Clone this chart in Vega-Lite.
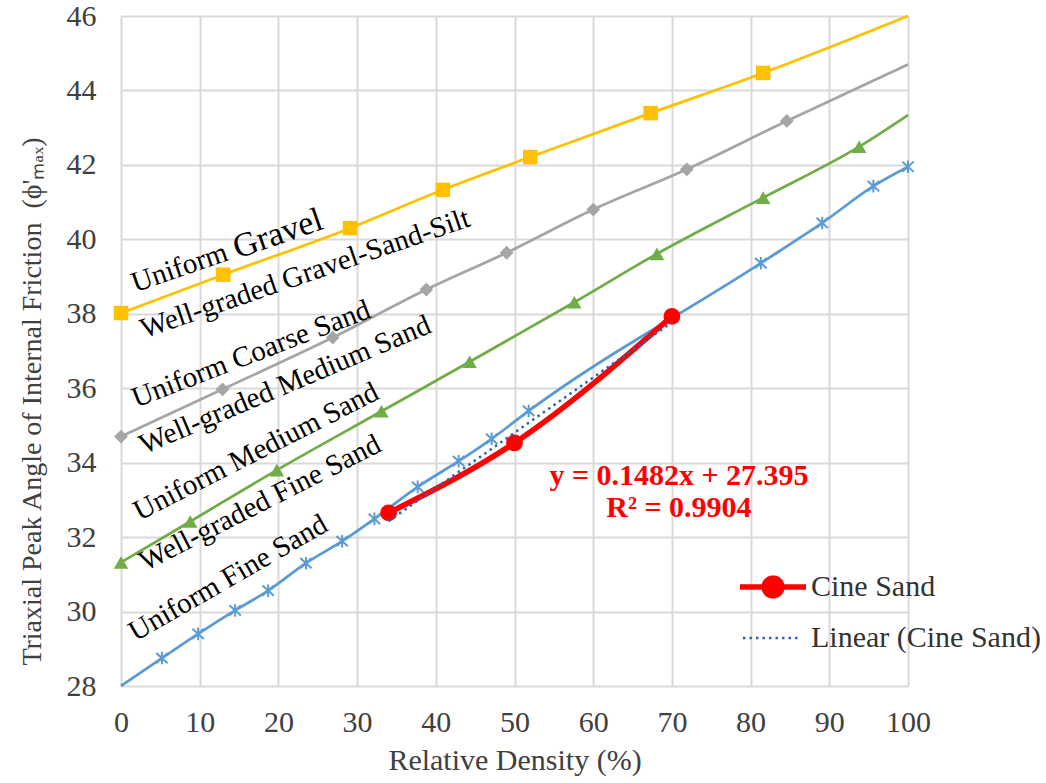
{
  "$schema": "https://vega.github.io/schema/vega-lite/v6.json",
  "width": 787,
  "height": 670,
  "autosize": "none",
  "padding": {"left": 121, "top": 16, "right": 138, "bottom": 97},
  "config": {"view": {"stroke": null}, "font": "Liberation Serif"},
  "datasets": {
    "curves": [
      {"series": "Gravel", "x": 0, "phi": 38.02},
      {"series": "Gravel", "x": 13.0, "phi": 39.05},
      {"series": "Gravel", "x": 29.1, "phi": 40.3},
      {"series": "Gravel", "x": 40.9, "phi": 41.33},
      {"series": "Gravel", "x": 52.0, "phi": 42.21},
      {"series": "Gravel", "x": 67.3, "phi": 43.39},
      {"series": "Gravel", "x": 81.6, "phi": 44.47},
      {"series": "Gravel", "x": 100, "phi": 46.0},
      {"series": "Coarse", "x": 0, "phi": 34.7},
      {"series": "Coarse", "x": 12.9, "phi": 35.97},
      {"series": "Coarse", "x": 26.9, "phi": 37.36},
      {"series": "Coarse", "x": 38.8, "phi": 38.65},
      {"series": "Coarse", "x": 49.0, "phi": 39.64},
      {"series": "Coarse", "x": 60.0, "phi": 40.8},
      {"series": "Coarse", "x": 71.9, "phi": 41.88},
      {"series": "Coarse", "x": 84.6, "phi": 43.18},
      {"series": "Coarse", "x": 100, "phi": 44.7},
      {"series": "Medium", "x": 0, "phi": 31.32},
      {"series": "Medium", "x": 8.8, "phi": 32.42},
      {"series": "Medium", "x": 19.8, "phi": 33.8},
      {"series": "Medium", "x": 33.1, "phi": 35.38},
      {"series": "Medium", "x": 44.3, "phi": 36.71},
      {"series": "Medium", "x": 57.6, "phi": 38.31},
      {"series": "Medium", "x": 68.1, "phi": 39.61},
      {"series": "Medium", "x": 81.6, "phi": 41.12},
      {"series": "Medium", "x": 93.8, "phi": 42.49},
      {"series": "Medium", "x": 100, "phi": 43.34},
      {"series": "Fine", "x": 0, "phi": 28.0},
      {"series": "Fine", "x": 5.2, "phi": 28.75},
      {"series": "Fine", "x": 9.8, "phi": 29.4},
      {"series": "Fine", "x": 14.5, "phi": 30.03},
      {"series": "Fine", "x": 18.7, "phi": 30.56},
      {"series": "Fine", "x": 23.5, "phi": 31.3},
      {"series": "Fine", "x": 28.1, "phi": 31.89},
      {"series": "Fine", "x": 32.2, "phi": 32.49},
      {"series": "Fine", "x": 37.7, "phi": 33.35},
      {"series": "Fine", "x": 42.9, "phi": 34.04},
      {"series": "Fine", "x": 47.1, "phi": 34.64},
      {"series": "Fine", "x": 51.8, "phi": 35.39},
      {"series": "Fine", "x": 81.3, "phi": 39.36},
      {"series": "Fine", "x": 89.1, "phi": 40.44},
      {"series": "Fine", "x": 95.6, "phi": 41.43},
      {"series": "Fine", "x": 100, "phi": 41.95}
    ],
    "markers": [
      {"series": "Gravel", "x": 0, "phi": 38.02},
      {"series": "Gravel", "x": 13.0, "phi": 39.05},
      {"series": "Gravel", "x": 29.1, "phi": 40.3},
      {"series": "Gravel", "x": 40.9, "phi": 41.33},
      {"series": "Gravel", "x": 52.0, "phi": 42.21},
      {"series": "Gravel", "x": 67.3, "phi": 43.39},
      {"series": "Gravel", "x": 81.6, "phi": 44.47},
      {"series": "Coarse", "x": 0, "phi": 34.7},
      {"series": "Coarse", "x": 12.9, "phi": 35.97},
      {"series": "Coarse", "x": 26.9, "phi": 37.36},
      {"series": "Coarse", "x": 38.8, "phi": 38.65},
      {"series": "Coarse", "x": 49.0, "phi": 39.64},
      {"series": "Coarse", "x": 60.0, "phi": 40.8},
      {"series": "Coarse", "x": 71.9, "phi": 41.88},
      {"series": "Coarse", "x": 84.6, "phi": 43.18},
      {"series": "Medium", "x": 0, "phi": 31.32},
      {"series": "Medium", "x": 8.8, "phi": 32.42},
      {"series": "Medium", "x": 19.8, "phi": 33.8},
      {"series": "Medium", "x": 33.1, "phi": 35.38},
      {"series": "Medium", "x": 44.3, "phi": 36.71},
      {"series": "Medium", "x": 57.6, "phi": 38.31},
      {"series": "Medium", "x": 68.1, "phi": 39.61},
      {"series": "Medium", "x": 81.6, "phi": 41.12},
      {"series": "Medium", "x": 93.8, "phi": 42.49},
      {"series": "Fine", "x": 5.2, "phi": 28.75},
      {"series": "Fine", "x": 9.8, "phi": 29.4},
      {"series": "Fine", "x": 14.5, "phi": 30.03},
      {"series": "Fine", "x": 18.7, "phi": 30.56},
      {"series": "Fine", "x": 23.5, "phi": 31.3},
      {"series": "Fine", "x": 28.1, "phi": 31.89},
      {"series": "Fine", "x": 32.2, "phi": 32.49},
      {"series": "Fine", "x": 37.7, "phi": 33.35},
      {"series": "Fine", "x": 42.9, "phi": 34.04},
      {"series": "Fine", "x": 47.1, "phi": 34.64},
      {"series": "Fine", "x": 51.8, "phi": 35.39},
      {"series": "Fine", "x": 81.3, "phi": 39.36},
      {"series": "Fine", "x": 89.1, "phi": 40.44},
      {"series": "Fine", "x": 95.6, "phi": 41.43},
      {"series": "Fine", "x": 100, "phi": 41.95}
    ],
    "cine": [
      {"x": 34, "phi": 32.65},
      {"x": 50, "phi": 34.53},
      {"x": 70, "phi": 37.93}
    ],
    "trend": [
      {"x": 34, "phi": 32.43},
      {"x": 70, "phi": 37.77}
    ]
  },
  "encoding": {
    "x": {"field": "x", "type": "quantitative", "scale": {"domain": [0, 100], "nice": false},
      "axis": {"values": [0, 10, 20, 30, 40, 50, 60, 70, 80, 90, 100], "title": "Relative Density (%)",
        "grid": true, "gridColor": "#d9d9d9", "gridWidth": 2, "domain": false, "ticks": false, "tickSize": 0,
        "labelFont": "Liberation Serif", "labelFontSize": 30, "labelColor": "#404040", "labelPadding": 21, "labelFlush": false, "labelOverlap": false,
        "titleFont": "Liberation Serif", "titleFontSize": 30, "titleFontWeight": "normal", "titleColor": "#404040", "titlePadding": 8}},
    "y": {"field": "phi", "type": "quantitative", "scale": {"domain": [28, 46], "nice": false, "zero": false},
      "axis": {"values": [28, 30, 32, 34, 36, 38, 40, 42, 44, 46], "title": "Triaxial Peak Angle of Internal Friction \u00a0(ϕ'ₘₐₓ)",
        "grid": true, "gridColor": "#d9d9d9", "gridWidth": 2, "domain": false, "ticks": false, "tickSize": 0,
        "labelFont": "Liberation Serif", "labelFontSize": 30, "labelColor": "#404040", "labelPadding": 25, "labelOverlap": false,
        "titleFont": "Liberation Serif", "titleFontSize": 28, "titleFontWeight": "normal", "titleColor": "#404040", "titlePadding": 20, "titleY": 385}}
  },
  "layer": [
    {"data": {"name": "curves"}, "transform": [{"filter": "datum.series === 'Gravel'"}],
     "mark": {"type": "line", "color": "#FFC000", "strokeWidth": 2.75, "interpolate": "monotone"}},
    {"data": {"name": "curves"}, "transform": [{"filter": "datum.series === 'Coarse'"}],
     "mark": {"type": "line", "color": "#A5A5A5", "strokeWidth": 2.75, "interpolate": "monotone"}},
    {"data": {"name": "curves"}, "transform": [{"filter": "datum.series === 'Medium'"}],
     "mark": {"type": "line", "color": "#70AD47", "strokeWidth": 2.75, "interpolate": "monotone"}},
    {"data": {"name": "curves"}, "transform": [{"filter": "datum.series === 'Fine'"}],
     "mark": {"type": "line", "color": "#5B9BD5", "strokeWidth": 2.75, "interpolate": "monotone"}},
    {"data": {"name": "markers"}, "transform": [{"filter": "datum.series === 'Gravel'"}],
     "mark": {"type": "point", "shape": "square", "filled": true, "color": "#FFC000", "size": 210, "opacity": 1}},
    {"data": {"name": "markers"}, "transform": [{"filter": "datum.series === 'Coarse'"}],
     "mark": {"type": "point", "shape": "diamond", "filled": true, "color": "#A5A5A5", "size": 190, "opacity": 1}},
    {"data": {"name": "markers"}, "transform": [{"filter": "datum.series === 'Medium'"}],
     "mark": {"type": "point", "shape": "triangle-up", "filled": true, "color": "#70AD47", "size": 210, "opacity": 1}},
    {"data": {"name": "markers"}, "transform": [{"filter": "datum.series === 'Fine'"}],
     "mark": {"type": "point", "shape": "M-1,-0.9L1,0.9M-1,0.9L1,-0.9M0,-1.1L0,1.1", "filled": false, "color": "#5B9BD5", "strokeWidth": 2, "size": 130, "opacity": 1}},
    {"data": {"name": "cine"},
     "mark": {"type": "line", "strokeWidth": 5.5, "interpolate": "monotone"},
     "encoding": {"color": {"datum": "Cine Sand", "type": "nominal",
       "scale": {"domain": ["Cine Sand", "Linear (Cine Sand)"], "range": ["#FF0000", "#3060B8"]},
       "legend": {"orient": "none", "legendX": 637, "legendY": 556, "title": null, "padding": 0,
         "symbolSize": 1000, "rowPadding": 16, "labelOffset": 23,
         "labelFont": "Liberation Serif", "labelFontSize": 30, "labelColor": "#333333", "labelLimit": 400,
         "encode": {"symbols": {"update": {
           "shape": {"signal": "datum.value === 'Cine Sand' ? 'M-2.09,0H2.09M-0.56,0A0.56,0.56 0 1,0 0.56,0A0.56,0.56 0 1,0 -0.56,0Z' : 'M-1.9,0H1.75'"},
           "fill": {"signal": "datum.value === 'Cine Sand' ? '#FF0000' : 'transparent'"},
           "stroke": {"signal": "datum.value === 'Cine Sand' ? '#FF0000' : '#3060B8'"},
           "strokeWidth": {"signal": "datum.value === 'Cine Sand' ? 5.5 : 2.5"},
           "strokeDash": {"signal": "datum.value === 'Cine Sand' ? [1, 0] : [2.5, 4]"},
           "opacity": {"value": 1}
         }}}}}}},
    {"data": {"name": "cine"},
     "mark": {"type": "point", "shape": "circle", "filled": true, "size": 283, "opacity": 1},
     "encoding": {"color": {"datum": "Cine Sand", "type": "nominal"}}},
    {"data": {"name": "trend"},
     "mark": {"type": "line", "strokeWidth": 2.5, "strokeDash": [2.5, 4]},
     "encoding": {"color": {"datum": "Linear (Cine Sand)", "type": "nominal"}}},
    {"data": {"values": [{"label": "Uniform", "x": 7.43, "phi": 39.24}]},
     "mark": {"type": "text", "angle": -19, "font": "Liberation Serif", "fontSize": 29, "color": "#000000", "align": "center", "baseline": "middle"},
     "encoding": {"text": {"field": "label"}}},
    {"data": {"values": [{"label": "Gravel", "x": 19.95, "phi": 40.14}]},
     "mark": {"type": "text", "angle": -19, "font": "Liberation Serif", "fontSize": 34, "color": "#000000", "align": "center", "baseline": "middle"},
     "encoding": {"text": {"field": "label"}}},
    {"data": {"values": [{"label": "Well-graded Gravel-Sand-Silt", "x": 23.38, "phi": 39.08}]},
     "mark": {"type": "text", "angle": -19, "font": "Liberation Serif", "fontSize": 29, "color": "#000000", "align": "center", "baseline": "middle"},
     "encoding": {"text": {"field": "label"}}},
    {"data": {"values": [{"label": "Uniform Coarse Sand", "x": 16.52, "phi": 36.92}]},
     "mark": {"type": "text", "angle": -21, "font": "Liberation Serif", "fontSize": 29, "color": "#000000", "align": "center", "baseline": "middle"},
     "encoding": {"text": {"field": "label"}}},
    {"data": {"values": [{"label": "Well-graded Medium Sand", "x": 20.84, "phi": 36.09}]},
     "mark": {"type": "text", "angle": -23, "font": "Liberation Serif", "fontSize": 29, "color": "#000000", "align": "center", "baseline": "middle"},
     "encoding": {"text": {"field": "label"}}},
    {"data": {"values": [{"label": "Uniform Medium Sand", "x": 17.15, "phi": 34.3}]},
     "mark": {"type": "text", "angle": -27, "font": "Liberation Serif", "fontSize": 29, "color": "#000000", "align": "center", "baseline": "middle"},
     "encoding": {"text": {"field": "label"}}},
    {"data": {"values": [{"label": "Well-graded Fine Sand", "x": 17.66, "phi": 32.92}]},
     "mark": {"type": "text", "angle": -27, "font": "Liberation Serif", "fontSize": 29, "color": "#000000", "align": "center", "baseline": "middle"},
     "encoding": {"text": {"field": "label"}}},
    {"data": {"values": [{"label": "Uniform Fine Sand", "x": 13.6, "phi": 30.9}]},
     "mark": {"type": "text", "angle": -30, "font": "Liberation Serif", "fontSize": 29, "color": "#000000", "align": "center", "baseline": "middle"},
     "encoding": {"text": {"field": "label"}}},
    {"data": {"values": [{"label": "y = 0.1482x + 27.395", "x": 70.9, "phi": 33.64}, {"label": "R² = 0.9904", "x": 70.9, "phi": 32.78}]},
     "mark": {"type": "text", "font": "Liberation Serif", "fontSize": 30, "fontWeight": "bold", "color": "#FF0000", "align": "center", "baseline": "middle"},
     "encoding": {"text": {"field": "label"}}}
  ]
}
